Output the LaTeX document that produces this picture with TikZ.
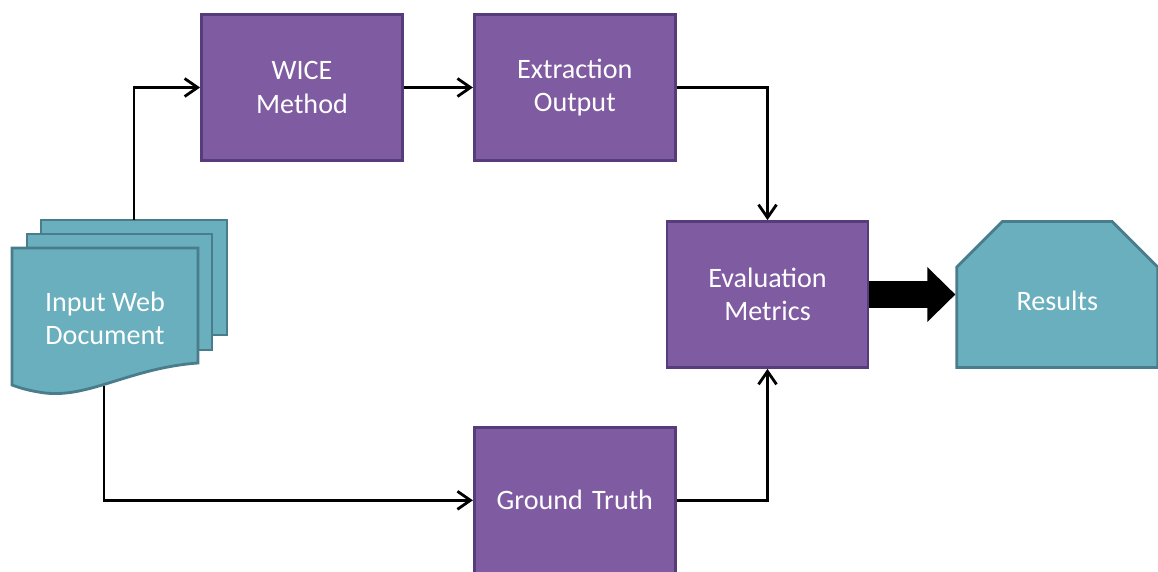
\documentclass[tikz,border=0pt]{standalone}
\usepackage{fontspec}
\setmainfont{Carlito}
\usetikzlibrary{shapes,shapes.misc,arrows.meta,positioning,calc}

\definecolor{boxfill}{HTML}{7F5BA1}
\definecolor{boxline}{HTML}{573C7C}
\definecolor{docfill}{HTML}{69AFBD}
\definecolor{docline}{HTML}{497D8C}

\begin{document}
\begin{tikzpicture}[
    block/.style={
        rectangle,
        draw=boxline,
        fill=boxfill,
        line width=1.6pt,
        text=white,
        text width=3.6cm,
        text centered,
        minimum width=4.02cm,
        minimum height=2.92cm,
        font=\fontsize{16}{19}\selectfont
    },
    result/.style={
        chamfered rectangle,
        chamfered rectangle corners={north west,north east},
        chamfered rectangle sep=0.48cm,
        draw=docline,
        fill=docfill,
        line width=1.6pt,
        text=white,
        text height=0.63cm,
        text depth=0cm,
        minimum width=4.02cm,
        minimum height=2.92cm,
        font=\fontsize{16}{19}\selectfont
    },
    page/.style={
        draw=docline,
        fill=docfill,
        line width=1.6pt
    },
    line/.style={
        draw,
        line width=1.6pt,
        -{Straight Barb[length=2.6mm,width=3.6mm]}
    },
    bigarrow/.style={
        draw=black,
        line width=0.52cm,
        -{Triangle[length=0.56cm,width=1.06cm]}
    }
]
\useasboundingbox (0,0) rectangle (23.16,-11.44);

% Document stack
\draw [page] (0.82,-4.40) rectangle (4.54,-6.70);
\draw [page] (0.54,-4.68) rectangle (4.24,-7.00);
\draw [page] (0.24,-4.96) -- (3.96,-4.96) -- (3.96,-7.26)
    .. controls (2.6,-7.36) and (1.8,-7.96) .. (0.9,-7.86)
    .. controls (0.6,-7.82) and (0.4,-7.76) .. (0.24,-7.70) -- cycle;
\node [text=white, align=center, font=\fontsize{16}{19}\selectfont] (input) at (2.10,-6.37) {Input Web\\Document};
\coordinate (doctop) at (2.68,-4.40);
\coordinate (docbot) at (2.08,-7.72);

% Nodes
\node [block] (wice) at (6.04,-1.75) {WICE\\Method};
\node [block, right=1.38cm of wice] (extract) {Extraction\\Output};
\node [block, below=5.28cm of extract] (truth) {Ground Truth};
\node [block] (eval) at (15.35,-5.89) {Evaluation\\Metrics};
\node [result, right=1.72cm of eval] (results) {Results};

% Edges
\path [line] (doctop) |- (wice);
\path [line] (wice) -- (extract);
\path [line] (extract) -| (eval);
\path [line] (docbot) |- (truth);
\path [line] (truth) -| (eval);
\draw [bigarrow] (eval.east) -- (results.west);

\end{tikzpicture}
\end{document}
